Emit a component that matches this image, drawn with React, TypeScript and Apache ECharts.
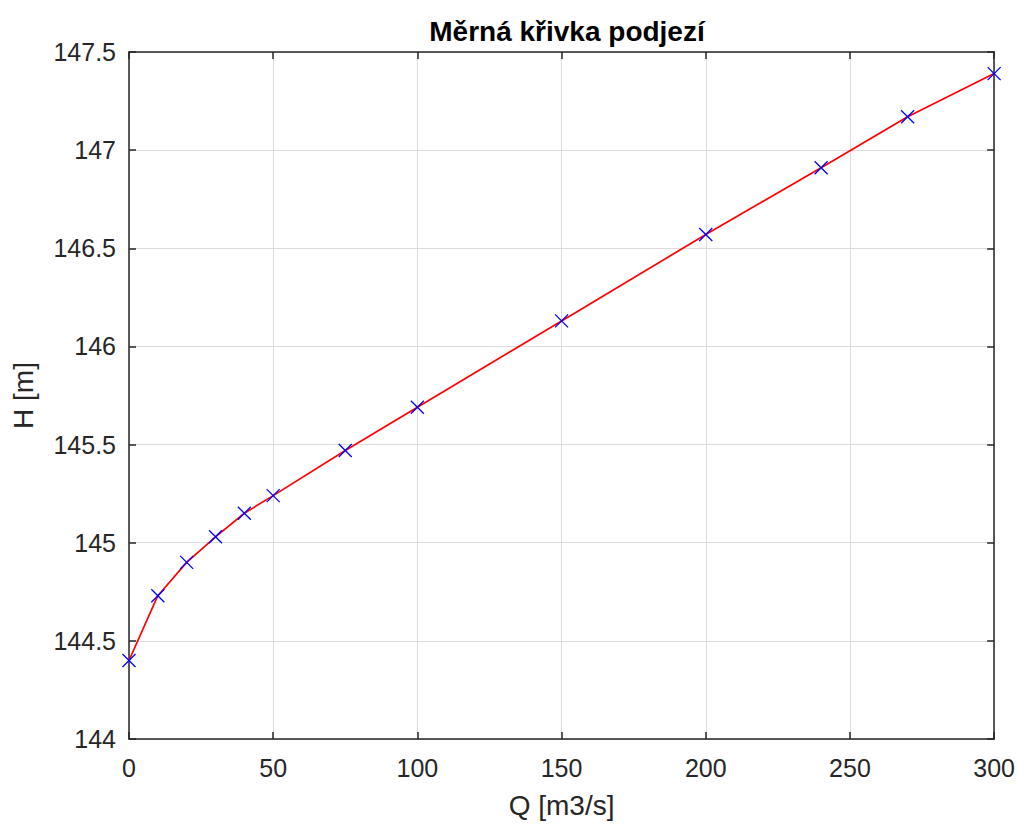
import React, { useEffect, useRef } from "react";
import * as echarts from "echarts";

const title = "Měrná křivka podjezí";
const xName = "Q [m3/s]";
const yName = "H [m]";
const qValues = [0, 10, 20, 30, 40, 50, 75, 100, 150, 200, 240, 270, 300];
const hValues = [144.4, 144.73, 144.9, 145.03, 145.15, 145.24, 145.47, 145.69, 146.13, 146.57, 146.91, 147.17, 147.39];

const axisColor = "#262626";
const gridColor = "#dcdcdc";
const font = "'Liberation Sans', Arial, Helvetica, sans-serif";

export default function App() {
  const ref = useRef<HTMLDivElement>(null);
  useEffect(() => {
    if (!ref.current) return;
    const chart = echarts.init(ref.current, undefined, { renderer: "svg" });
    const data = qValues.map((q, i) => [q, hValues[i]]);
    const baseX = {
      type: "value" as const,
      min: 0,
      max: 300,
      interval: 50,
      axisLine: { show: true, onZero: false, lineStyle: { color: axisColor, width: 1.5 } },
      axisTick: { show: true, inside: true, length: 7, lineStyle: { color: axisColor, width: 1.5 } },
    };
    const baseY = {
      type: "value" as const,
      min: 144,
      max: 147.5,
      interval: 0.5,
      axisLine: { show: true, onZero: false, lineStyle: { color: axisColor, width: 1.5 } },
      axisTick: { show: true, inside: true, length: 7, lineStyle: { color: axisColor, width: 1.5 } },
    };
    chart.setOption({
      animation: false,
      backgroundColor: "#ffffff",
      title: {
        text: title,
        left: 562,
        textAlign: "center",
        top: 12,
        textStyle: { fontFamily: font, fontSize: 28, fontWeight: "bold", color: "#000" },
      },
      grid: { left: 129, right: 22, top: 52, bottom: 85, containLabel: false },
      xAxis: [
        {
          ...baseX,
          position: "bottom",
          name: xName,
          nameLocation: "middle",
          nameGap: 52,
          nameTextStyle: { fontFamily: font, fontSize: 28, color: axisColor },
          axisLabel: { fontFamily: font, fontSize: 25, color: axisColor, margin: 16 },
          splitLine: { show: true, lineStyle: { color: gridColor, width: 1 } },
        },
        {
          ...baseX,
          position: "top",
          axisLabel: { show: false },
          splitLine: { show: false },
        },
      ],
      yAxis: [
        {
          ...baseY,
          position: "left",
          name: yName,
          nameLocation: "middle",
          nameGap: 92,
          nameRotate: 90,
          nameTextStyle: { fontFamily: font, fontSize: 28, color: axisColor },
          axisLabel: { fontFamily: font, fontSize: 25, color: axisColor, margin: 13 },
          splitLine: { show: true, lineStyle: { color: gridColor, width: 1 } },
        },
        {
          ...baseY,
          position: "right",
          axisLabel: { show: false },
          splitLine: { show: false },
        },
      ],
      series: [
        {
          type: "line",
          data,
          xAxisIndex: 0,
          yAxisIndex: 0,
          lineStyle: { color: "#ff0000", width: 1.7 },
          symbol: "path://M0,0L10,10M10,0L0,10",
          symbolSize: 13,
          itemStyle: { color: "rgba(0,0,0,0)", borderColor: "#0000ff", borderWidth: 1.3 },
          showSymbol: true,
          clip: false,
          z: 5,
        },
      ],
    });
    return () => chart.dispose();
  }, []);
  return <div ref={ref} style={{ width: 1018, height: 824, position: "absolute", left: 0, top: 0 }} />;
}
